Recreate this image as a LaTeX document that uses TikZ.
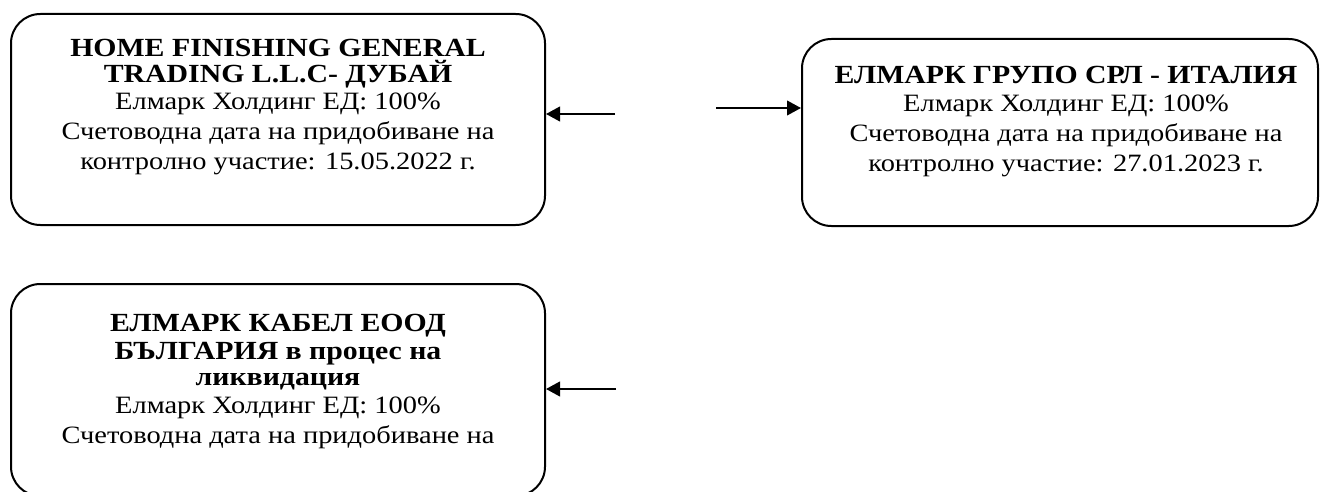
\documentclass[tikz,border=0pt]{standalone}
\usepackage{fontspec}
\setmainfont{Liberation Serif}
\newfontfamily\boxfont[FakeStretch=1.14]{Liberation Serif}
\usetikzlibrary{arrows.meta}
\begin{document}
\begin{tikzpicture}[x=0.75pt,y=-0.75pt,
  box/.style={draw,line width=1.5pt,rounded corners=22pt,anchor=north west,inner sep=0pt},
  bt/.style={font=\boxfont\fontsize{19.6}{22}\selectfont\bfseries,inner sep=0pt,anchor=base},
  rt/.style={font=\boxfont\fontsize{18.7}{22}\selectfont,inner sep=0pt,anchor=base},
  conn/.style={line width=1.5pt,-{Triangle[length=10.5pt,width=11pt]}}]
\useasboundingbox (0,0) rectangle (1323,492);
\begin{scope}
\clip (0,0) rectangle (1323,492);
\node[box,minimum width=534*0.75pt,minimum height=211*0.75pt] (b1) at (10,13) {};
\node[box,minimum width=516*0.75pt,minimum height=187*0.75pt] (b2) at (801,38) {};
\node[box,minimum width=534*0.75pt,minimum height=212*0.75pt] (b3) at (10,283) {};
\end{scope}
% box 1
\node[bt] (t1a) at (278,56) {HOME FINISHING GENERAL};
\node[bt] (t1b) at (278,83) {TRADING L.L.C- ДУБАЙ};
\node[rt] (t1c) at (278,109) {Елмарк Холдинг ЕД: 100\%};
\node[rt] (t1d) at (278,139) {Счетоводна дата на придобиване на};
\node[rt] (t1e) at (278,169) {контролно участие: 15.05.2022 г.};
% box 2
\node[bt] (t2a) at (1066,84) {ЕЛМАРК ГРУПО СРЛ - ИТАЛИЯ};
\node[rt] (t2b) at (1066,111) {Елмарк Холдинг ЕД: 100\%};
\node[rt] (t2c) at (1066,141) {Счетоводна дата на придобиване на};
\node[rt] (t2d) at (1066,171) {контролно участие: 27.01.2023 г.};
% box 3
\node[bt] (t3a) at (278,331) {ЕЛМАРК КАБЕЛ ЕООД};
\node[bt] (t3b) at (278,359) {БЪЛГАРИЯ в процес на};
\node[bt] (t3c) at (278,385) {ликвидация};
\node[rt] (t3d) at (278,413) {Елмарк Холдинг ЕД: 100\%};
\node[rt] (t3e) at (278,443) {Счетоводна дата на придобиване на};
% connectors
\coordinate (s1) at (615,114);
\coordinate (s2) at (716,108);
\coordinate (s3) at (616,389);
\draw[conn] (s1) -- (b1.east |- s1);
\draw[conn] (s2) -- (b2.west |- s2);
\draw[conn] (s3) -- (b3.east |- s3);
\end{tikzpicture}
\end{document}
